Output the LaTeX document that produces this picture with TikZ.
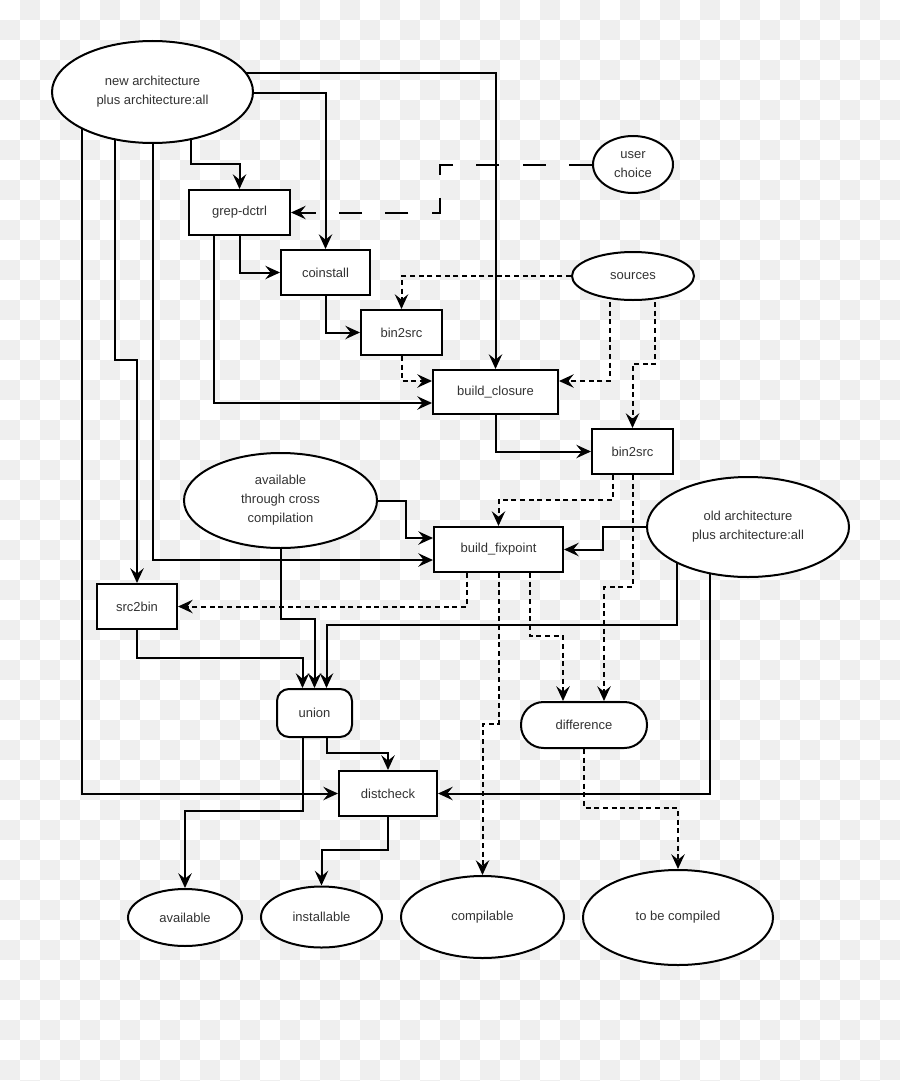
\documentclass[tikz,border=0pt]{standalone}
\usepackage{fontspec}
\setmainfont{Liberation Sans}
\usetikzlibrary{arrows.meta,shapes.geometric,calc}
\pgfdeclarelayer{checker}
\pgfdeclarelayer{edges}
\pgfsetlayers{checker,edges,main}
\definecolor{chk}{HTML}{EFEFEF}
\definecolor{txt}{HTML}{333333}
\begin{document}
\begin{tikzpicture}[x=0.75pt,y=-0.75pt,
  base/.style={draw=black, fill=white, line width=1.5pt, inner sep=0pt, align=center,
    text=txt, font=\fontsize{9.75pt}{14.25pt}\selectfont},
  box/.style={base, rectangle},
  oval/.style={base, ellipse},
  roundbox/.style={base, rectangle, rounded corners=9pt},
  stadium/.style={base, rectangle, rounded corners=17pt},
  ln/.style={line width=1.5pt, -{Stealth[length=11pt,width=10pt,inset=4pt]}},
  dotline/.style={ln, dash pattern=on 3.75pt off 2.75pt},
  longdash/.style={ln, dash pattern=on 17.25pt off 17.5pt}
]
\useasboundingbox (0,0) rectangle (900,1081);
\begin{pgfonlayer}{checker}
  \fill[white] (0,0) rectangle (900,1081);
  \begin{scope}
  \clip (0,0) rectangle (900,1081);
  \foreach \i in {0,...,44}{
    \foreach \j in {0,...,54}{
      \pgfmathtruncatemacro\k{mod(\i+\j,2)}
      \ifnum\k=1 \fill[chk] (\i*20,\j*20) rectangle ++(20,20);\fi
    }
  }
  \end{scope}
\end{pgfonlayer}

% nodes
\node[oval, minimum width=150.75pt, minimum height=76.5pt] (NA) at (152.5,92) {new architecture\\plus architecture:all};
\node[box, minimum width=75.75pt, minimum height=33.75pt] (grep) at (239.5,212.5) {grep-dctrl};
\node[box, minimum width=66.75pt, minimum height=33.75pt] (coin) at (325.5,272.5) {coinstall};
\node[box, minimum width=60.75pt, minimum height=33.75pt] (bsa) at (401.5,332.5) {bin2src};
\node[box, minimum width=93.75pt, minimum height=33pt] (bc) at (495.5,392) {build\_closure};
\node[oval, minimum width=60pt, minimum height=42.75pt] (uc) at (633,164.5) {user\\choice};
\node[oval, minimum width=91.5pt, minimum height=36pt] (src) at (633,276) {sources};
\node[box, minimum width=60.75pt, minimum height=33.75pt] (bsb) at (632.5,451.5) {bin2src};
\node[oval, minimum width=144.75pt, minimum height=71.25pt] (acc) at (280.5,500.5) {available\\through cross\\compilation};
\node[box, minimum width=96.75pt, minimum height=33.75pt] (bf) at (498.5,549.5) {build\_fixpoint};
\node[oval, minimum width=151.5pt, minimum height=75pt] (OA) at (748,527) {old architecture\\plus architecture:all};
\node[box, minimum width=60pt, minimum height=33.75pt] (s2b) at (137,606.5) {src2bin};
\node[roundbox, minimum width=56.25pt, minimum height=36pt] (un) at (314.5,713) {union};
\node[stadium, minimum width=94.5pt, minimum height=34.5pt] (diff) at (584,725) {difference};
\node[box, minimum width=73.5pt, minimum height=33.75pt] (dc) at (388,793.5) {distcheck};
\node[oval, minimum width=85.5pt, minimum height=42.75pt] (avail) at (185,917.5) {available};
\node[oval, minimum width=90.75pt, minimum height=45.75pt] (inst) at (321.5,917) {installable};
\node[oval, minimum width=122.25pt, minimum height=61.5pt] (comp) at (482.5,917) {compilable};
\node[oval, minimum width=142.5pt, minimum height=71.25pt] (tbc) at (678,917.5) {to be compiled};

% connectors
\begin{pgfonlayer}{edges}
\draw[ln] ($(NA.center)+(0,-19)$) -| (bc.north);
\draw[ln] ($(NA.center)+(0,1)$) -| (coin.north);
\draw[ln] ($(NA.center)+(38,0)$) |- ($(grep.north)+(0,-25)$) -- (grep.north);
\draw[ln] ($(NA.center)+(-71,0)$) |- (dc.west);
\draw[ln] ($(NA.center)+(-38,0)$) |- ($(s2b.north)+(0,-223)$) -- (s2b.north);
\draw[ln] (NA.center) |- ($(bf.west)+(0,10.5)$);
\draw[ln] (grep.south) |- (coin.west);
\draw[ln] ($(grep.south)+(-25.5,0)$) |- ($(bc.west)+(0,11)$);
\draw[longdash] (uc.west) -- ++(-152,0) |- (grep.east);
\draw[ln] (coin.south) |- (bsa.west);
\draw[dotline] (src.west) -| (bsa.north);
\draw[dotline] ($(src.center)+(-23,0)$) |- ($(bc.east)+(0,-11)$);
\draw[dotline] ($(src.center)+(22,0)$) |- ($(bsb.north)+(0,-64)$) -- (bsb.north);
\draw[dotline] (bsa.south) |- ($(bc.west)+(0,-11)$);
\draw[ln] (bc.south) |- (bsb.west);
\draw[dotline] ($(bsb.south)+(-19.5,0)$) |- ($(bf.north)+(0,-26.5)$) -- (bf.north);
\draw[dotline] (bsb.south) |- ($(diff.north)+(20,-114)$) -- ($(diff.north)+(20,0)$);
\draw[ln] (acc.east) -- ++(28,0) |- ($(bf.west)+(0,-11.5)$);
\draw[ln] (acc.south) |- ($(un.north)+(0,-69)$) -- (un.north);
\draw[dotline] ($(bf.south)+(-31.5,0)$) |- (s2b.east);
\draw[dotline] (bf.south) -- ++(0,151) -| (comp.north);
\draw[dotline] ($(bf.south)+(31.5,0)$) |- ($(diff.north)+(-21,-65)$) -- ($(diff.north)+(-21,0)$);
\draw[ln] (OA.west) -- ++(-43,0) |- (bf.east);
\draw[ln] ($(OA.center)+(-71,0)$) |- ($(un.north)+(12,-63)$) -- ($(un.north)+(12,0)$);
\draw[ln] ($(OA.center)+(-38,0)$) |- (dc.east);
\draw[ln] (s2b.south) |- ($(un.north)+(-12,-30)$) -- ($(un.north)+(-12,0)$);
\draw[ln] ($(un.south)+(12,0)$) |- ($(dc.north)+(0,-17)$) -- (dc.north);
\draw[ln] ($(un.south)+(-12,0)$) |- ($(avail.north)+(0,-77)$) -- (avail.north);
\draw[ln] (dc.south) |- ($(inst.north)+(0,-35.5)$) -- (inst.north);
\draw[dotline] (diff.south) |- ($(tbc.north)+(0,-61)$) -- (tbc.north);
\end{pgfonlayer}
\end{tikzpicture}
\end{document}
